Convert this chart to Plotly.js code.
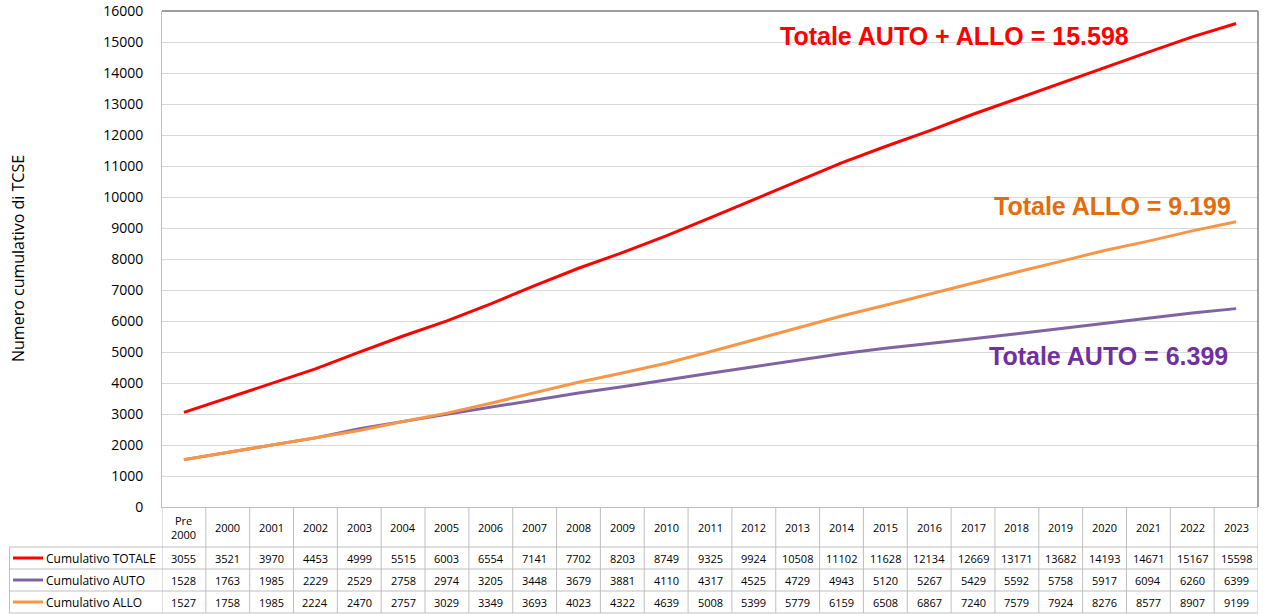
<!DOCTYPE html>
<html>
<head>
<meta charset="utf-8">
<script src="https://cdn.plot.ly/plotly-3.0.1.min.js"></script>
<style>html,body{margin:0;padding:0;background:#fff;}#chart{width:1266px;height:614px;}</style>
</head>
<body>
<div id="chart"></div>
<script>
const categories = ["Pre 2000","2000","2001","2002","2003","2004","2005","2006","2007","2008","2009","2010","2011","2012","2013","2014","2015","2016","2017","2018","2019","2020","2021","2022","2023"];
const headerLabels = ["Pre<br>2000","2000","2001","2002","2003","2004","2005","2006","2007","2008","2009","2010","2011","2012","2013","2014","2015","2016","2017","2018","2019","2020","2021","2022","2023"];
const totale = [3055,3521,3970,4453,4999,5515,6003,6554,7141,7702,8203,8749,9325,9924,10508,11102,11628,12134,12669,13171,13682,14193,14671,15167,15598];
const auto = [1528,1763,1985,2229,2529,2758,2974,3205,3448,3679,3881,4110,4317,4525,4729,4943,5120,5267,5429,5592,5758,5917,6094,6260,6399];
const allo = [1527,1758,1985,2224,2470,2757,3029,3349,3693,4023,4322,4639,5008,5399,5779,6159,6508,6867,7240,7579,7924,8276,8577,8907,9199];
const seriesNames = ["Cumulativo TOTALE","Cumulativo AUTO","Cumulativo ALLO"];
const seriesColors = ["#FF0000","#8064A2","#F79646"];
const yTicks = [0,1000,2000,3000,4000,5000,6000,7000,8000,9000,10000,11000,12000,13000,14000,15000,16000];
const yTitle = "Numero cumulativo di TCSE";
const callouts = [
  {text:"Totale AUTO + ALLO = 15.598", color:"#FF0000", x:0.7235, y:0.9496},
  {text:"Totale ALLO = 9.199", color:"#E46C0A", x:0.8668, y:0.6069},
  {text:"Totale AUTO = 6.399", color:"#7030A0", x:0.864, y:0.3044}
];

const series = [totale, auto, allo];
const idx = categories.map((c,i)=>i);
const traces = series.map((s,k)=>({
  x: idx, y: s, type:'scatter', mode:'lines', name: seriesNames[k],
  line:{color: seriesColors[k], width:3}, hoverinfo:'x+y'
}));

const plotH = 496, plotW = 1096;
const py = p => (507 - p)/plotH;
const px = p => (p - 162)/plotW;
const rowEdges = [py(547), py(569), py(591), py(613)];
const rowCenters = [py(558), py(580), py(602)];
const headerCenter = py(527);
const leftEdge = px(9.5);
const gridCol = "#BFBFBF";
const fontFam = "'Open Sans', sans-serif";

const shapes = [];
rowEdges.forEach(y=>shapes.push({type:'line', xref:'paper', yref:'paper', x0:leftEdge, x1:1, y0:y, y1:y, line:{color:gridCol, width:1}}));
shapes.push({type:'line', xref:'paper', yref:'paper', x0:leftEdge, x1:leftEdge, y0:rowEdges[0], y1:rowEdges[3], line:{color:gridCol, width:1}});
for (let i=0;i<=categories.length;i++){
  shapes.push({type:'line', xref:'x', yref:'paper', x0:i-0.5, x1:i-0.5, y0:0, y1:rowEdges[3], line:{color:gridCol, width:1}});
}
shapes.push({type:'line', xref:'paper', yref:'paper', x0:0, x1:1, y0:1, y1:1, line:{color:"#7F7F7F", width:1.5}});
shapes.push({type:'line', xref:'paper', yref:'paper', x0:1, x1:1, y0:0, y1:1, line:{color:"#7F7F7F", width:1.5}});
rowCenters.forEach((y,k)=>shapes.push({type:'line', xref:'paper', yref:'paper', x0:px(13), x1:px(43), y0:y, y1:y, line:{color:seriesColors[k], width:3}}));

const annotations = [];
headerLabels.forEach((h,i)=>annotations.push({xref:'x', yref:'paper', x:i, y:headerCenter, text:h, showarrow:false, font:{family:fontFam, size:11, color:"#000"}, xanchor:'center', yanchor:'middle'}));
series.forEach((s,k)=>{
  s.forEach((v,i)=>annotations.push({xref:'x', yref:'paper', x:i, y:rowCenters[k], text:String(v), showarrow:false, font:{family:fontFam, size:11, color:"#000"}, xanchor:'center', yanchor:'middle'}));
  annotations.push({xref:'paper', yref:'paper', x:px(44), y:rowCenters[k], text:seriesNames[k], showarrow:false, font:{family:fontFam, size:12, color:"#000"}, xanchor:'left', yanchor:'middle'});
});
callouts.forEach(c=>annotations.push({xref:'paper', yref:'paper', x:c.x, y:c.y, text:'<b>'+c.text+'</b>', showarrow:false, font:{family:"'Liberation Sans', Arial, sans-serif", size:25, color:c.color}, xanchor:'center', yanchor:'middle'}));
annotations.push({xref:'paper', yref:'paper', x:px(18), y:0.5, text:yTitle, textangle:-90, showarrow:false, font:{family:fontFam, size:16, color:"#000"}, xanchor:'center', yanchor:'middle'});

const layout = {
  width:1266, height:614,
  margin:{l:162, r:8, t:11, b:107},
  paper_bgcolor:'#fff', plot_bgcolor:'#fff',
  showlegend:false,
  xaxis:{range:[-0.5, categories.length-0.5], showticklabels:false, showgrid:false, zeroline:false, showline:true, linecolor:gridCol, linewidth:1, ticks:'', fixedrange:true},
  yaxis:{range:[0,16000], tickvals:yTicks, ticktext:yTicks.map(String), showgrid:true, gridcolor:"#D9D9D9", gridwidth:1, zeroline:false, showline:true, linecolor:gridCol, linewidth:1, ticks:'', ticklabelstandoff:15, tickfont:{family:fontFam, size:14, color:"#000"}},
  shapes: shapes,
  annotations: annotations
};
Plotly.newPlot('chart', traces, layout, {displayModeBar:false});
</script>
</body>
</html>
